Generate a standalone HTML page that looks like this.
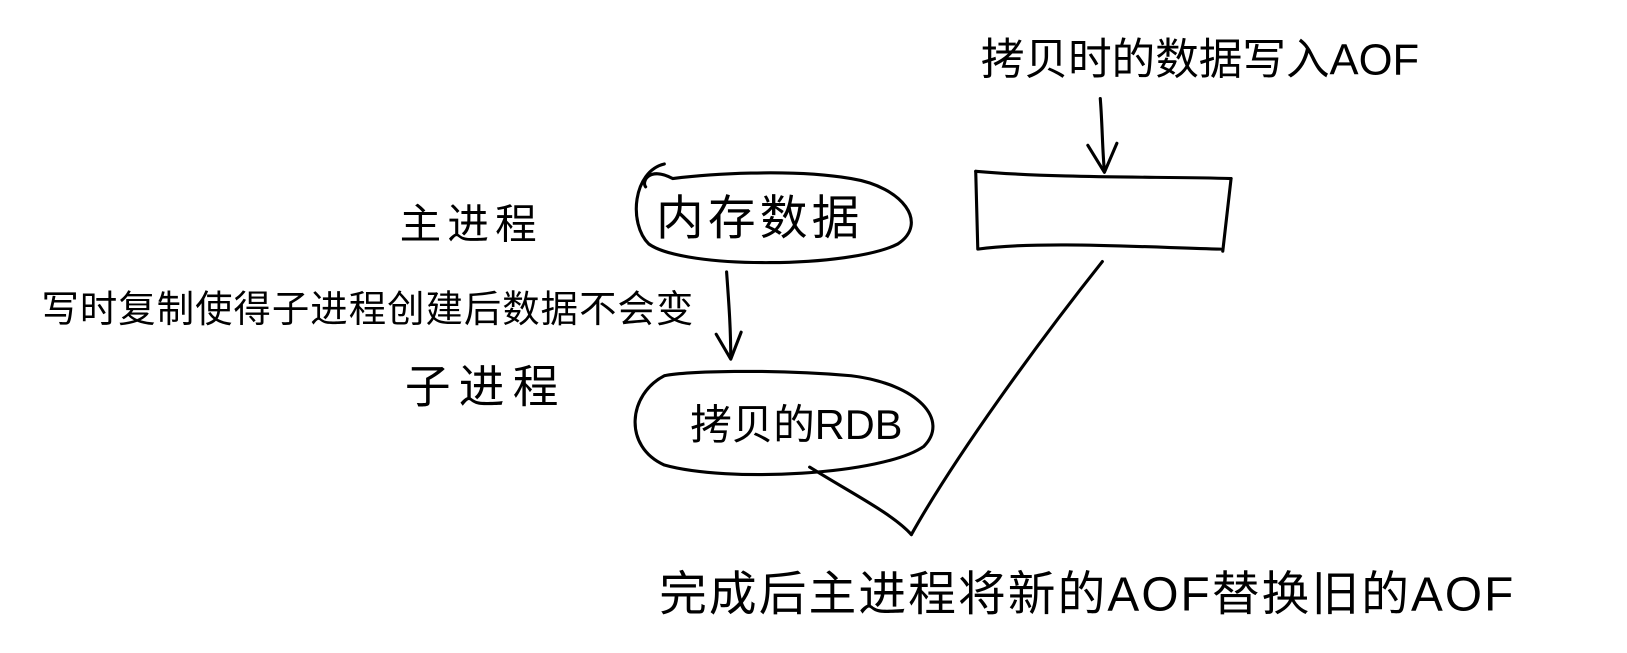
<!DOCTYPE html>
<html><head><meta charset="utf-8"><style>
html,body{margin:0;padding:0;background:#fff;}
svg{display:block;}
text{font-family:"Liberation Sans","Noto Sans CJK SC",sans-serif;fill:#000;}
</style></head><body>
<svg width="1627" height="653" viewBox="0 0 1627 653" xmlns="http://www.w3.org/2000/svg">
<g transform="scale(1.038)">
<g fill="none" stroke="#000" stroke-width="3" stroke-linecap="round" stroke-linejoin="round">
  <path d="M640,158 C610,165 605,215 625,235 C660,260 820,258 865,235 C895,215 870,180 820,172 C760,162 680,168 648,172 C625,160 618,175 622,180"/>
  <path d="M640,362 C605,380 600,430 640,448 C700,465 850,458 890,430 C915,405 885,370 820,362 C740,355 660,358 640,362"/>
  <path d="M940,165 C1020,172 1120,170 1186,172"/>
  <path d="M940,165 L942,240 C1000,232 1100,238 1176,240"/>
  <path d="M1186,172 L1178,242"/>
  <path d="M1060,95 C1062,120 1062,145 1064,165"/>
  <path d="M1048,140 L1064,166 L1076,138"/>
  <path d="M700,262 C702,290 704,315 704,345"/>
  <path d="M690,322 L704,346 L714,320"/>
  <path d="M1062,252 C1000,330 920,440 878,515"/>
  <path d="M780,450 C820,475 860,495 878,515"/>
</g>
<text x="945" y="72" font-size="42">拷贝时的数据写入AOF</text>
<text x="385" y="230" font-size="40" letter-spacing="6">主进程</text>
<text x="632" y="226" font-size="46" letter-spacing="4">内存数据</text>
<text x="40" y="310" font-size="36" letter-spacing="1">写时复制使得子进程创建后数据不会变</text>
<text x="390" y="388" font-size="44" letter-spacing="8">子进程</text>
<text x="665" y="423" font-size="40">拷贝的RDB</text>
<text x="635" y="588" font-size="46" letter-spacing="2">完成后主进程将新的AOF替换旧的AOF</text>
</g>
</svg>
</body></html>
